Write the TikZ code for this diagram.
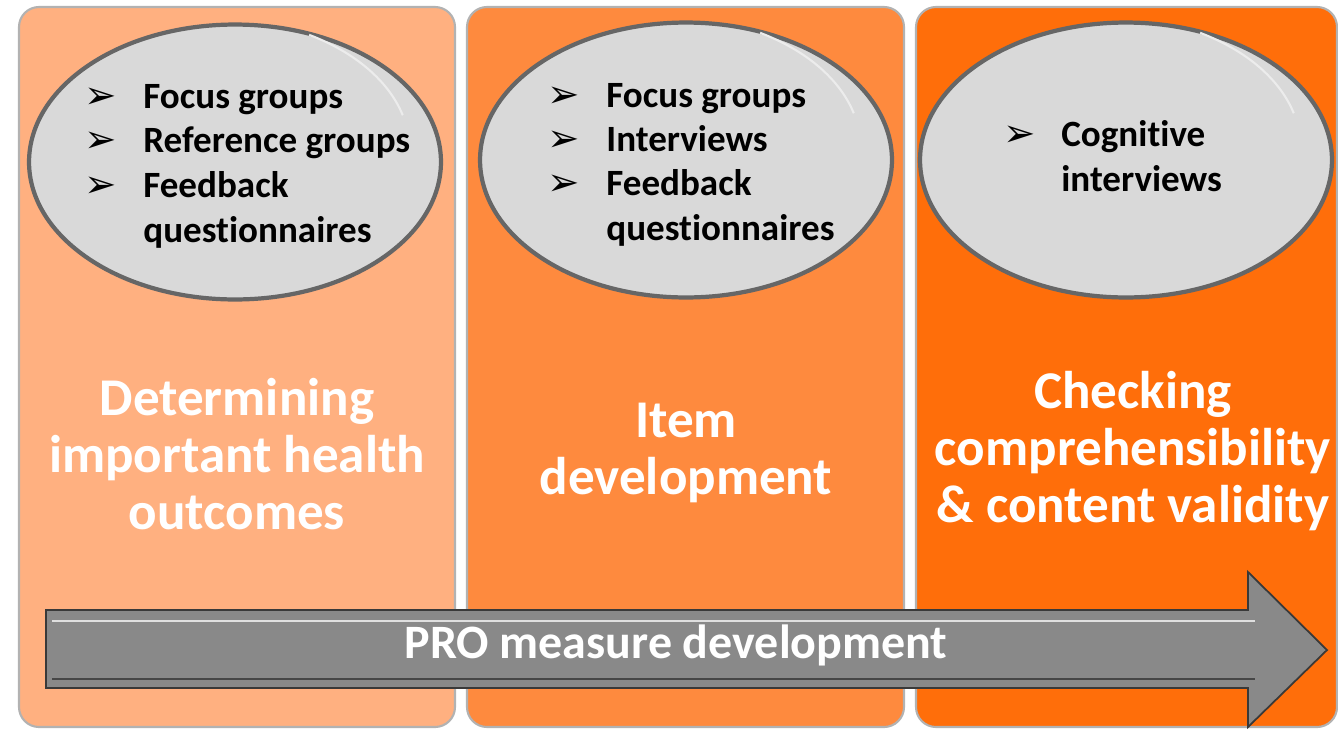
\documentclass[tikz,border=0pt]{standalone}
\usepackage{fontspec}
\setmainfont{Carlito}[Ligatures=CommonOff]
\newfontfamily\symfont{DejaVu Sans}
\usetikzlibrary{shapes.geometric}
\definecolor{stageA}{RGB}{255,176,128}
\definecolor{stageB}{RGB}{254,138,62}
\definecolor{stageC}{RGB}{255,110,10}
\definecolor{ovalgray}{RGB}{217,217,217}
\definecolor{arrowgray}{RGB}{137,137,137}
\tikzset{
  stage/.style={rounded corners=0.4cm, draw=gray!60, line width=1.2pt},
  oval/.style={ellipse, fill=ovalgray, draw=gray!80!black, line width=2.4pt,
    minimum width=8.24cm, minimum height=5.5cm, inner sep=0pt},
  shine/.style={white!85!gray, line width=1.2pt},
  item/.style={anchor=base west, inner sep=0pt, font=\bfseries\fontsize{21.1}{25.5}\selectfont},
  tick/.style={anchor=base west, inner sep=0pt, font=\symfont\fontsize{22}{24}\selectfont},
  title/.style={align=center, text=white, font=\bfseries\fontsize{30.2}{32.4}\selectfont},
}
\begin{document}
\begin{tikzpicture}[x=0.02cm,y=-0.02cm]
\useasboundingbox (0,0) rectangle (1338,731);
% three stages
\draw[stage, fill=stageA] (19,7) rectangle (455,727);
\draw[stage, fill=stageB] (467,7) rectangle (904,727);
\draw[stage, fill=stageC] (916,7) rectangle (1337,727);
% ovals
\node[oval] (ovalA) at (235,162) {};
\node[oval] (ovalB) at (686,160) {};
\node[oval] (ovalC) at (1126,160) {};
\foreach \o in {ovalA,ovalB,ovalC}
  \draw[shine] ([shift={(-0.02cm,-0.06cm)}]\o.60) arc[start angle=60, end angle=15, x radius=4.02cm, y radius=2.65cm];
% lists
\foreach \y [count=\i] in {108,152,197}
  \node[tick] (tickA\i) at (84,\y) {➢};
\node[item] (itemA1) at (143,108) {Focus groups};
\node[item] (itemA2) at (143,152) {Reference groups};
\node[item] (itemA3) at (143,197) {Feedback};
\node[item] (itemA4) at (143,242) {questionnaires};
\foreach \y [count=\i] in {107,151,195}
  \node[tick] (tickB\i) at (547,\y) {➢};
\node[item] (itemB1) at (606,107) {Focus groups};
\node[item] (itemB2) at (606,151) {Interviews};
\node[item] (itemB3) at (606,195) {Feedback};
\node[item] (itemB4) at (606,240) {questionnaires};
\node[tick] (tickC1) at (1003,146) {➢};
\node[item] (itemC1) at (1061,146) {Cognitive};
\node[item] (itemC2) at (1061,191) {interviews};
% stage titles
\node[title] (titleA) at (237,454) {Determining\\important health\\outcomes};
\node[title] (titleB) at (686,453) {Item\\development};
\node[title] (titleC) at (1133,451) {Checking\\comprehensibility\\\& content validity};
% process arrow
\draw[fill=arrowgray, draw=gray!45!black, line width=1pt]
  (46,610) -- (1248,610) -- (1248,572) -- (1327,650) -- (1248,727)
  -- (1248,688) -- (46,688) -- cycle;
\draw[white!75!gray, line width=1.5pt] (52,621) -- (1255,621);
\draw[gray!55!black, line width=1.5pt] (52,679) -- (1255,679);
\node[text=white, font=\bfseries\fontsize{27.3}{30}\selectfont] (pro) at (676,645) {PRO measure development};
\end{tikzpicture}
\end{document}
